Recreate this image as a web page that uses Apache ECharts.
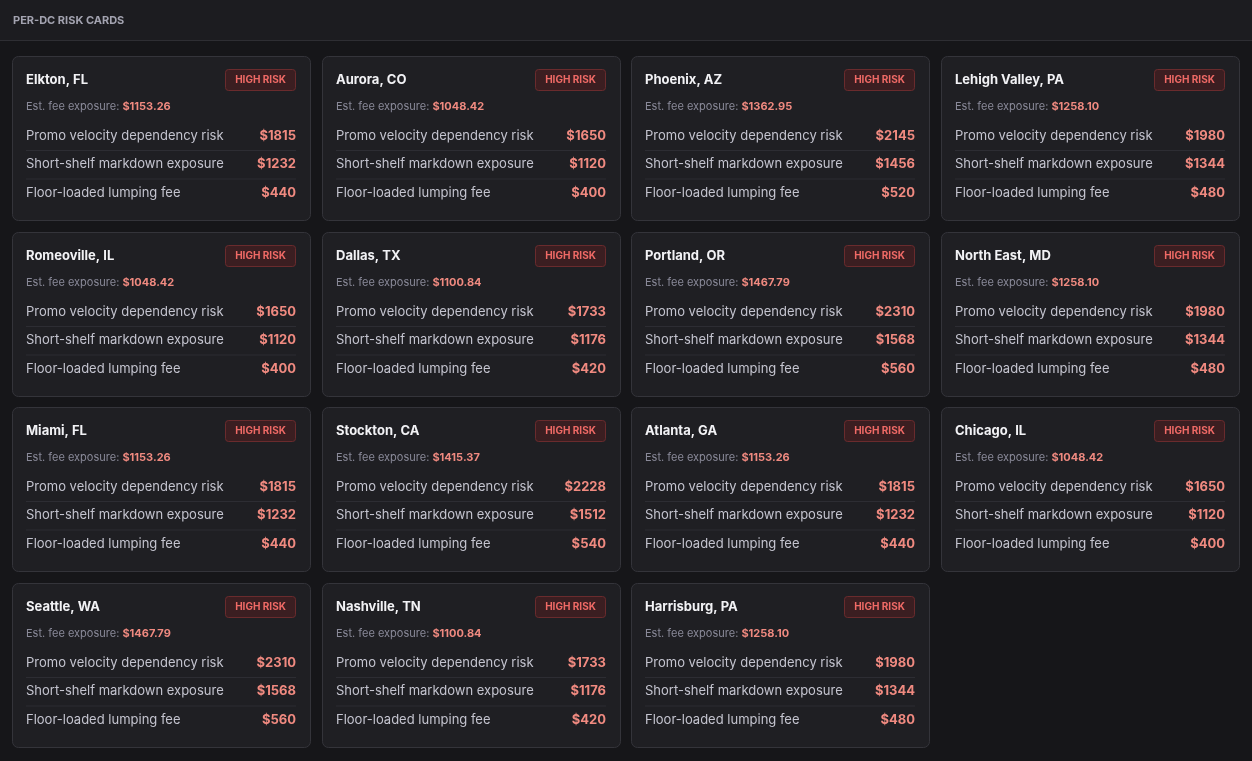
<!DOCTYPE html>
<html><head><meta charset="utf-8">
<script src="https://cdn.jsdelivr.net/npm/echarts@6/dist/echarts.min.js"></script>
<style>html,body{margin:0;padding:0;background:#161619;}#c{width:1252px;height:761px;}</style>
</head><body><div id="c"></div>
<script>
const cities = ["Elkton, FL","Aurora, CO","Phoenix, AZ","Lehigh Valley, PA","Romeoville, IL","Dallas, TX","Portland, OR","North East, MD","Miami, FL","Stockton, CA","Atlanta, GA","Chicago, IL","Seattle, WA","Nashville, TN","Harrisburg, PA"];
const exposure = ["1153.26","1048.42","1362.95","1258.10","1048.42","1100.84","1467.79","1258.10","1153.26","1415.37","1153.26","1048.42","1467.79","1100.84","1258.10"];
const promo = [1815,1650,2145,1980,1650,1733,2310,1980,1815,2228,1815,1650,2310,1733,1980];
const shelf = [1232,1120,1456,1344,1120,1176,1568,1344,1232,1512,1232,1120,1568,1176,1344];
const floor = [440,400,520,480,400,420,560,480,440,540,440,400,560,420,480];
const rowLabels = ["Promo velocity dependency risk","Short-shelf markdown exposure","Floor-loaded lumping fee"];
const badgeText = "HIGH RISK";
const title = "PER-DC RISK CARDS";

const FONT = "Inter, 'Noto Sans', sans-serif";
const els = [];
els.push({type:'rect',shape:{x:0,y:0,width:1252,height:40},style:{fill:'#1c1c20'}});
els.push({type:'rect',shape:{x:0,y:40,width:1252,height:1},style:{fill:'#2e2e33'}});
els.push({type:'text',x:13,y:21,style:{text:title,fill:'#a3a3b0',font:"bold 11px "+FONT,textVerticalAlign:'middle',letterSpacing:1}});
const colX=[12,322,631,941], rowY=[56,232,407,583], W=298, H=164;
cities.forEach((c,i)=>{
  const x=colX[i%4], y=rowY[Math.floor(i/4)];
  els.push({type:'rect',shape:{x:x+0.5,y:y+0.5,width:W,height:H,r:6},style:{fill:'#1f1f23',stroke:'#34343a',lineWidth:1}});
  els.push({type:'text',x:x+14,y:y+24,style:{text:c,fill:'#f2f2f5',font:"bold 13px "+FONT,textVerticalAlign:'middle'}});
  els.push({type:'rect',shape:{x:x+213.5,y:y+13.5,width:70,height:21,r:3},style:{fill:'#3b1e21',stroke:'#6a2b2d',lineWidth:1}});
  els.push({type:'text',x:x+248.5,y:y+24,style:{text:badgeText,fill:'#ef6a66',font:"bold 10px "+FONT,textAlign:'center',textVerticalAlign:'middle',letterSpacing:0.3}});
  els.push({type:'text',x:x+14,y:y+51,style:{rich:{a:{fill:'#8a8a99',font:"11px "+FONT},b:{fill:'#f08a80',font:"bold 11px "+FONT}},text:"{a|Est. fee exposure: }{b|$"+exposure[i]+"}",textVerticalAlign:'middle'}});
  const vals=[promo[i],shelf[i],floor[i]];
  vals.forEach((v,k)=>{
    const ry=y+80+k*28.5;
    els.push({type:'text',x:x+14,y:ry,style:{text:rowLabels[k],fill:'#c4c4cf',font:"13px "+FONT,textVerticalAlign:'middle'}});
    els.push({type:'text',x:x+284,y:ry,style:{text:"$"+v,fill:'#f08a80',font:"bold 13px "+FONT,textAlign:'right',textVerticalAlign:'middle'}});
    if(k<2) els.push({type:'rect',shape:{x:x+14,y:ry+14,width:270,height:1},style:{fill:'#2d2d33'}});
  });
});
const ch=echarts.init(document.getElementById('c'),null,{renderer:'canvas'});
ch.setOption({backgroundColor:'#161619',animation:false,graphic:{elements:els}});
</script></body></html>
